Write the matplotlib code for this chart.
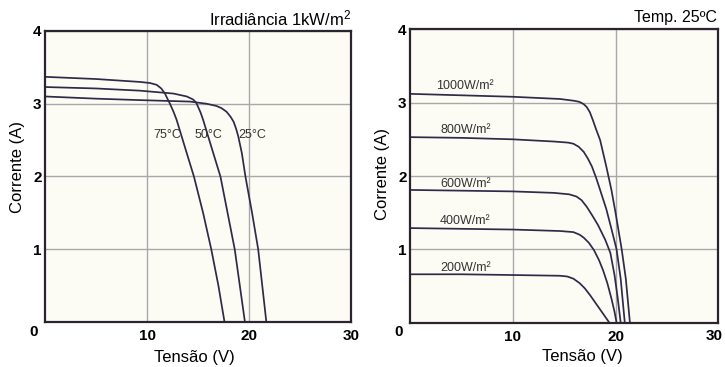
import matplotlib
matplotlib.use("Agg")
import matplotlib.pyplot as plt

plt.rcParams['font.family'] = ['Liberation Sans', 'DejaVu Sans']
plt.rcParams['mathtext.fontset'] = 'custom'
plt.rcParams['mathtext.rm'] = 'Liberation Sans'
plt.rcParams['mathtext.it'] = 'Liberation Sans:italic'

# ---------------- data: left panel (irradiance 1 kW/m2, varying temperature)
temp_labels = ["75°C", "50°C", "25°C"]
v_75 = [0, 5, 9.3, 10.3, 10.95, 11.4, 11.76, 12.0, 12.25, 12.6, 12.9, 13.4, 13.9, 14.6, 15.5, 16.3, 17.0, 17.6]
i_75 = [3.37, 3.34, 3.30, 3.285, 3.26, 3.21, 3.14, 3.07, 3.00, 2.89, 2.78, 2.55, 2.32, 2.00, 1.50, 1.00, 0.50, 0.00]
v_50 = [0, 5, 9.3, 12.6, 13.9, 14.5, 14.8, 15.0, 15.25, 15.5, 16.0, 16.5, 17.2, 17.9, 18.6, 19.1, 19.6]
i_50 = [3.23, 3.21, 3.18, 3.14, 3.10, 3.06, 3.02, 2.96, 2.88, 2.78, 2.55, 2.32, 2.00, 1.50, 1.00, 0.50, 0.00]
v_25 = [0, 5, 9.3, 14.2, 15.85, 16.8, 17.3, 17.8, 18.2, 18.5, 18.75, 18.95, 19.3, 19.65, 20.3, 20.9, 21.3, 21.7]
i_25 = [3.10, 3.07, 3.05, 3.03, 3.00, 2.97, 2.94, 2.89, 2.82, 2.75, 2.65, 2.55, 2.32, 2.00, 1.50, 1.00, 0.50, 0.00]
temp_label_pos_v = [12.0, 16.0, 20.3]
temp_label_pos_i = [2.57, 2.57, 2.57]

# ---------------- data: right panel (temperature 25 C, varying irradiance)
irr_labels = ["1000W/m²", "800W/m²", "600W/m²", "400W/m²", "200W/m²"]
v_1000 = [0, 5, 10, 14.6, 16.0, 16.5, 16.9, 17.2, 17.5, 17.8, 18.1, 18.5, 19.1, 19.6, 20.0, 20.3, 20.6, 21.0, 21.4]
i_1000 = [3.12, 3.10, 3.08, 3.05, 3.025, 3.01, 2.98, 2.94, 2.87, 2.76, 2.64, 2.49, 2.13, 1.81, 1.50, 1.25, 1.00, 0.60, 0.00]
v_800 = [0, 5, 10, 14.0, 15.4, 15.9, 16.4, 16.9, 17.3, 17.7, 18.1, 18.5, 19.1, 19.6, 20.1, 20.5, 20.9]
i_800 = [2.53, 2.52, 2.50, 2.47, 2.455, 2.44, 2.40, 2.33, 2.24, 2.13, 1.98, 1.81, 1.55, 1.28, 1.00, 0.60, 0.00]
v_600 = [0, 5, 10, 14.0, 15.5, 16.2, 16.7, 17.2, 17.7, 18.3, 19.0, 19.5, 19.9, 20.2, 20.5]
i_600 = [1.81, 1.80, 1.79, 1.77, 1.75, 1.72, 1.67, 1.58, 1.47, 1.33, 1.13, 0.95, 0.65, 0.35, 0.00]
v_400 = [0, 5, 10, 14.6, 15.9, 16.5, 16.9, 17.4, 17.9, 18.4, 18.8, 19.2, 19.6, 19.9, 20.1]
i_400 = [1.29, 1.28, 1.27, 1.25, 1.235, 1.20, 1.16, 1.09, 0.99, 0.85, 0.71, 0.54, 0.33, 0.15, 0.00]
v_200 = [0, 5, 10, 14.6, 15.3, 15.9, 16.5, 17.0, 17.5, 18.0, 18.5, 19.0, 19.4]
i_200 = [0.66, 0.66, 0.65, 0.64, 0.63, 0.60, 0.54, 0.47, 0.38, 0.28, 0.18, 0.08, 0.00]
irr_label_pos_v = [5.3, 5.4, 5.4, 5.4, 5.4]
irr_label_pos_i = [3.23, 2.63, 1.89, 1.39, 0.75]

x_ticks = [10, 20, 30]
y_ticks = [1, 2, 3, 4]

curve_color = "#2e2a48"
grid_color = "#a8a8a8"
spine_color = "#2a2430"
face_color = "#fdfcf4"

fig = plt.figure(figsize=(7.25, 3.67), dpi=100)
ax1 = fig.add_axes([45/725, 1-322/367, 306/725, 291/367])
ax2 = fig.add_axes([410/725, 1-322.7/367, 308.3/725, 293.4/367])


def style(ax, ticks_x):
    ax.set_xlim(0, 30)
    ax.set_ylim(0, 4)
    ax.set_facecolor(face_color)
    ax.set_xticks(ticks_x)
    ax.set_yticks(y_ticks)
    ax.tick_params(axis='both', length=0, labelsize=11, colors='black')
    ax.tick_params(axis='y', pad=2.5)
    ax.tick_params(axis='x', pad=5.2)
    for lbl in ax.get_xticklabels() + ax.get_yticklabels():
        lbl.set_fontweight('bold')
    ax.grid(True, color=grid_color, linewidth=1.0)
    ax.set_axisbelow(True)
    for s in ax.spines.values():
        s.set_color(spine_color)
        s.set_linewidth(1.6)
    ax.annotate("0", xy=(0, 0), xycoords='data', xytext=(-8.5, -7),
                textcoords='offset points', ha='center', va='center',
                fontsize=11, fontweight='bold')


style(ax1, x_ticks)
style(ax2, x_ticks[:-1])
# last x tick label of the right panel, kept inside the figure edge
ax2.annotate(str(x_ticks[-1]), xy=(x_ticks[-1], 0), xycoords='data', xytext=(3.3, -9.5),
             textcoords='offset points', ha='right', va='center',
             fontsize=11, fontweight='bold')

lw = 1.25
for v, i in [(v_75, i_75), (v_50, i_50), (v_25, i_25)]:
    ax1.plot(v, i, color=curve_color, linewidth=lw, solid_joinstyle='round')
for lab, x, y in zip(temp_labels, temp_label_pos_v, temp_label_pos_i):
    ax1.text(x, y, lab, fontsize=9, color="#333333", ha='center', va='center')

for v, i in [(v_1000, i_1000), (v_800, i_800), (v_600, i_600), (v_400, i_400), (v_200, i_200)]:
    ax2.plot(v, i, color=curve_color, linewidth=lw, solid_joinstyle='round')
for lab, x, y in zip(irr_labels, irr_label_pos_v, irr_label_pos_i):
    ax2.text(x, y, lab, fontsize=9, color="#333333", ha='center', va='center')

ax1.set_ylabel("Corrente (A)", fontsize=12, va='center')
ax1.yaxis.set_label_coords(-27/306, 0.534)
ax1.set_xlabel("Tensão (V)", fontsize=12, va='center')
ax1.xaxis.set_label_coords(0.487, -0.122)

ax2.set_ylabel("Corrente (A)", fontsize=12, va='center')
ax2.yaxis.set_label_coords(-28/308.3, 0.507)
ax2.set_xlabel("Tensão (V)", fontsize=12, va='center')
ax2.xaxis.set_label_coords(0.558, -0.114)

ax1.text(1.0, 1.01, "Irradiância 1kW/m$^2$", transform=ax1.transAxes,
         ha='right', va='bottom', fontsize=12)
ax2.text(0.995, 1.013, "Temp. 25ºC", transform=ax2.transAxes,
         ha='right', va='bottom', fontsize=11.5)

fig.savefig("out.png", dpi=100, facecolor='white')
